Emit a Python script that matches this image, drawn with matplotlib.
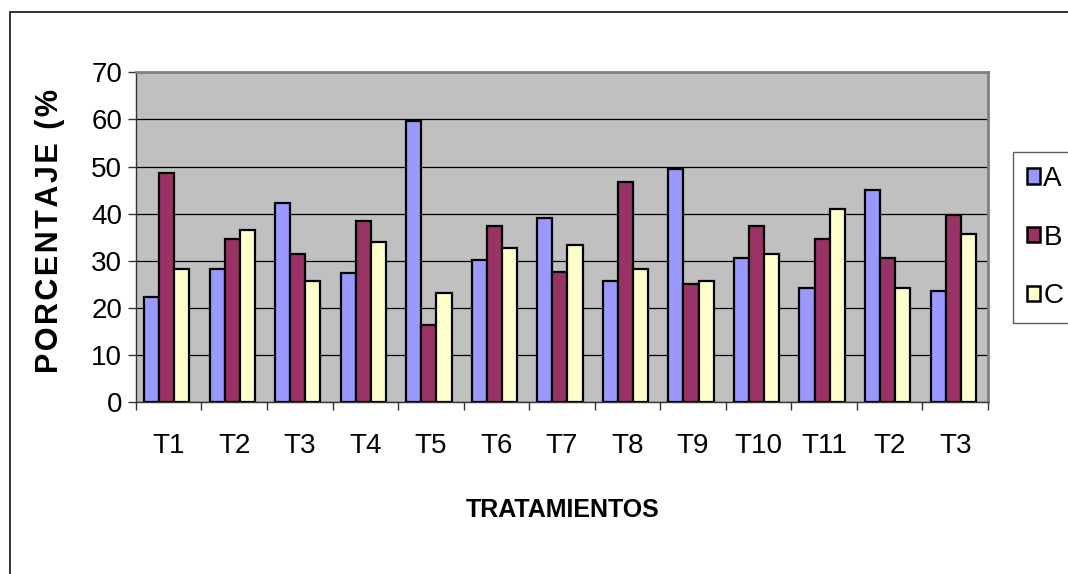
import matplotlib
matplotlib.use("Agg")
import matplotlib.pyplot as plt
import numpy as np
from matplotlib.patches import Rectangle

plt.rcParams.update({
    "font.family": ["Liberation Sans", "DejaVu Sans"],
    "axes.unicode_minus": False,
})

TRAT = ["T1", "T2", "T3", "T4", "T5", "T6", "T7", "T8", "T9", "T10", "T11", "T2", "T3"]
SERIE_A = [22.4, 28.2, 42.3, 27.5, 59.7, 30.2, 39.2, 25.7, 49.4, 30.7, 24.3, 45.0, 23.7]
SERIE_B = [48.7, 34.6, 31.5, 38.5, 16.5, 37.3, 27.6, 46.8, 25.0, 37.3, 34.6, 30.7, 39.7]
SERIE_C = [28.2, 36.5, 25.7, 34.0, 23.1, 32.7, 33.4, 28.2, 25.7, 31.4, 41.1, 24.3, 35.8]
SERIES = [("A", SERIE_A, "#9999FF"), ("B", SERIE_B, "#993366"), ("C", SERIE_C, "#FFFFCC")]

fig = plt.figure(figsize=(10.68, 5.74), dpi=100)
ax = fig.add_axes([0.1273, 0.2991, 0.7977, 0.5749])
ax.set_facecolor("#C0C0C0")

x = np.arange(len(TRAT))
w = 0.23
for k, (name, vals, col) in enumerate(SERIES):
    ax.bar(x + (k - 1) * w - 0.03, vals, width=w, color=col, edgecolor="black",
           linewidth=1.6, label=name, zorder=3)

ax.set_xlim(-0.5, len(TRAT) - 0.5)
ax.set_ylim(0, 70)
ax.set_yticks(range(0, 71, 10))
ax.yaxis.grid(True, color="black", linewidth=0.9, zorder=1)
ax.set_axisbelow(True)

# tick marks on category boundaries, labels centred under each group
ax.set_xticks(np.arange(-0.5, len(TRAT), 1.0))
ax.set_xticklabels([])
ax.set_xticks(x, minor=True)
ax.set_xticklabels(TRAT, minor=True, fontsize=20)
ax.tick_params(axis="x", which="major", direction="out", length=6, width=1, color="#333333")
ax.tick_params(axis="x", which="minor", length=0, pad=22)
ax.tick_params(axis="y", direction="out", length=6, width=1, color="#333333",
               labelsize=20, pad=4)

for s in ("top", "right"):
    ax.spines[s].set_color("#808080")
    ax.spines[s].set_linewidth(2)
for s in ("left", "bottom"):
    ax.spines[s].set_color("#333333")
    ax.spines[s].set_linewidth(1)

fig.text(0.5272, 0.111, "TRATAMIENTOS", ha="center", va="center",
         fontsize=18, fontweight="bold")
fig.text(0.047, 0.598, "\u200a".join("PORCENTAJE (%"), ha="center", va="center",
         rotation=90, fontsize=22, fontweight="bold")

leg = fig.legend(loc="upper left", bbox_to_anchor=(1013 / 1068, 1 - 152 / 574),
                 frameon=True, fontsize=20, handlelength=0.47, handleheight=0.47,
                 handletextpad=0.12, labelspacing=1.18, borderpad=0.5,
                 fancybox=False, borderaxespad=0)
leg.get_frame().set_edgecolor("#333333")
leg.get_frame().set_linewidth(1)
for h in leg.legend_handles:
    h.set_linewidth(1.8)

# outer frame of the chart object
fig.patches.append(Rectangle((10 / 1068, -0.1), 1.2, 1.1 - 12 / 574,
                             transform=fig.transFigure, fill=False,
                             edgecolor="#333333", linewidth=1.4))

fig.savefig("out.png", dpi=100, facecolor="white")
